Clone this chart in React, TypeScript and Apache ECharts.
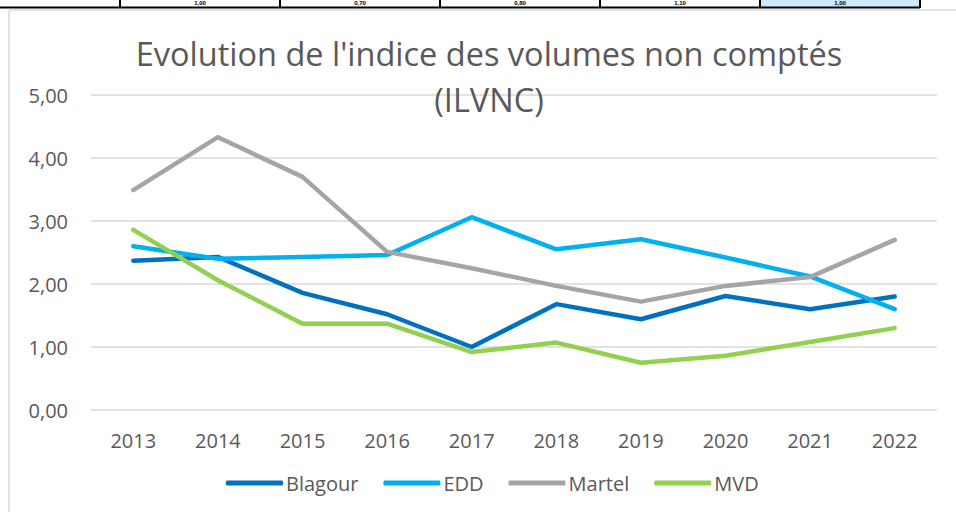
import React, { useEffect, useRef } from "react";
import * as echarts from "echarts";

const years = ["2013", "2014", "2015", "2016", "2017", "2018", "2019", "2020", "2021", "2022"];
const blagour = [2.37, 2.43, 1.86, 1.52, 1.0, 1.68, 1.44, 1.81, 1.6, 1.8];
const edd = [2.6, 2.4, 2.43, 2.46, 3.06, 2.55, 2.71, 2.42, 2.12, 1.6];
const martel = [3.49, 4.33, 3.7, 2.51, 2.25, 1.97, 1.72, 1.97, 2.11, 2.7];
const mvd = [2.86, 2.06, 1.37, 1.37, 0.92, 1.07, 0.75, 0.86, 1.08, 1.3];
const seriesNames = ["Blagour", "EDD", "Martel", "MVD"];
const seriesColors = ["#0070C0", "#00B0F0", "#A5A5A5", "#92D050"];
const tableValues = ["1,00", "0,70", "0,80", "1,10", "1,00"];

const FONT = "'Open Sans', sans-serif";

export default function App() {
  const ref = useRef<HTMLDivElement>(null);
  useEffect(() => {
    if (!ref.current) return;
    const chart = echarts.init(ref.current, undefined, { renderer: "svg" });
    const data = [blagour, edd, martel, mvd];
    const cellEdges = [120, 280, 440, 600, 760, 920];
    const graphics: any[] = [];
    // light blue cell
    graphics.push({
      type: "rect",
      shape: { x: 760, y: 0, width: 160, height: 7 },
      style: { fill: "#CCE8FB" },
      silent: true,
    });
    tableValues.forEach((v, i) => {
      graphics.push({
        type: "text",
        x: (cellEdges[i] + cellEdges[i + 1]) / 2,
        y: 0,
        style: {
          text: v,
          fill: "#000000",
          font: "bold 6px 'Liberation Sans', sans-serif",
          textAlign: "center",
          textVerticalAlign: "top",
        },
        silent: true,
      });
    });
    graphics.push({
      type: "line",
      shape: { x1: 0, y1: 7.5, x2: 920, y2: 7.5 },
      style: { stroke: "#000000", lineWidth: 2 },
      silent: true,
    });
    cellEdges.forEach((x) => {
      graphics.push({
        type: "line",
        shape: { x1: x, y1: 0, x2: x, y2: 8 },
        style: { stroke: "#000000", lineWidth: 2 },
        silent: true,
      });
    });
    // chart frame
    graphics.push({
      type: "line",
      shape: { x1: 9, y1: 10, x2: 956, y2: 10 },
      style: { stroke: "#D9D9D9", lineWidth: 1.5 },
      silent: true,
    });
    graphics.push({
      type: "line",
      shape: { x1: 9, y1: 10, x2: 9, y2: 512 },
      style: { stroke: "#D9D9D9", lineWidth: 1.5 },
      silent: true,
    });

    chart.setOption({
      animation: false,
      backgroundColor: "#ffffff",
      title: {
        text: "Evolution de l'indice des volumes non comptés\n(ILVNC)",
        left: 489,
        textAlign: "center",
        top: 30,
        padding: 0,
        textStyle: {
          fontFamily: FONT,
          fontSize: 32.5,
          fontWeight: "normal",
          color: "#595959",
          lineHeight: 46,
        },
      },
      graphic: graphics,
      grid: { left: 91, right: 19, top: 95, bottom: 102 },
      legend: {
        data: seriesNames,
        bottom: 14,
        left: 221,
        itemWidth: 57,
        itemHeight: 5,
        itemGap: 25,
        icon: "roundRect",
        textStyle: { fontFamily: FONT, fontSize: 20, color: "#595959", padding: [0, 0, 0, -2] },
      },
      xAxis: {
        type: "category",
        data: years,
        boundaryGap: true,
        axisLine: { show: false },
        axisTick: { show: false },
        axisLabel: { fontFamily: FONT, fontSize: 20, color: "#595959", margin: 20 },
      },
      yAxis: {
        type: "value",
        min: 0,
        max: 5,
        interval: 1,
        axisLine: { show: false },
        axisTick: { show: false },
        splitLine: { lineStyle: { color: "#D9D9D9", width: 1.5 } },
        axisLabel: {
          fontFamily: FONT,
          fontSize: 20,
          color: "#595959",
          margin: 23,
          formatter: (v: number) => v.toFixed(2).replace(".", ","),
        },
      },
      series: seriesNames.map((name, i) => ({
        name,
        type: "line",
        data: data[i],
        color: seriesColors[i],
        showSymbol: false,
        symbol: "none",
        lineStyle: { width: 4.5, color: seriesColors[i], cap: "round", join: "round" },
      })),
    });
    return () => chart.dispose();
  }, []);
  return (
    <div
      ref={ref}
      style={{ position: "absolute", left: 0, top: 0, width: 956, height: 512 }}
    />
  );
}
